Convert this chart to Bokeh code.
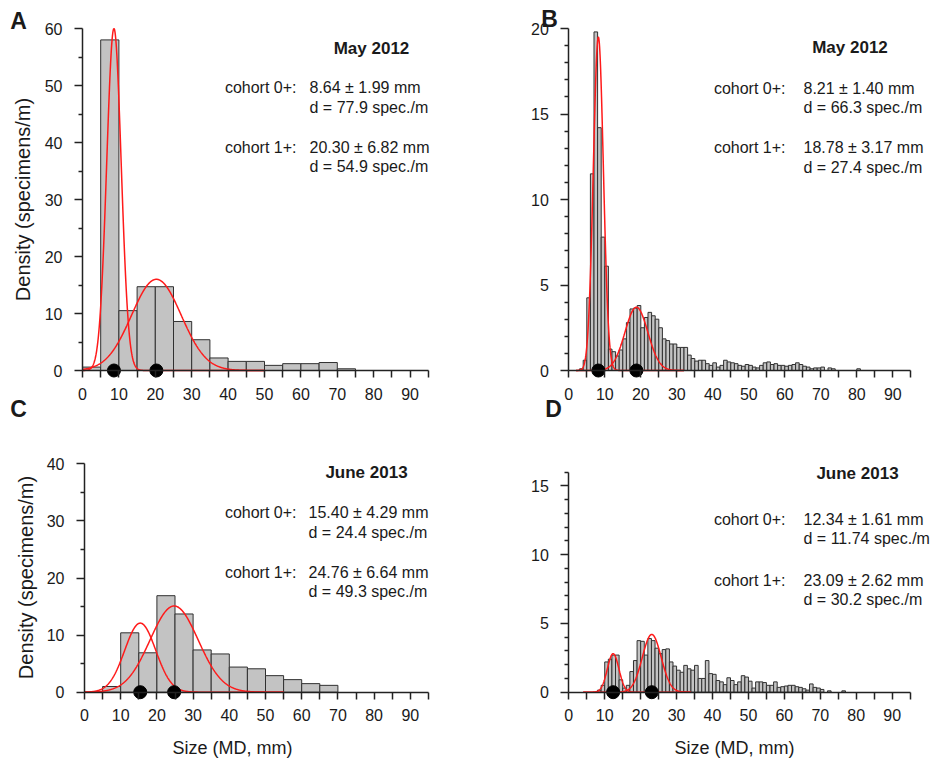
import numpy as np
from bokeh.plotting import figure
from bokeh.models import Range1d, FixedTicker, Label
from bokeh.layouts import column, row
from bokeh.embed import file_html
from bokeh.resources import INLINE

FONT = "Liberation Sans"
TXT = "#1a1a1a"

# ---------------- data ----------------
# Panel A (May 2012, 5-mm classes)
a_bin_left = [0, 5, 10, 15, 20, 25, 30, 35, 40, 45, 50, 55, 60, 65, 70]
a_density = [0.6, 58.0, 10.5, 14.7, 14.7, 8.6, 5.4, 2.2, 1.6, 1.6, 0.9, 1.2, 1.2, 1.4, 0.3]
a_means = [8.64, 20.30]
a_sds = [1.99, 6.82]
a_peaks = [60.0, 16.0]
a_dens_txt = ["77.9", "54.9"]

# Panel B (May 2012, 1-mm classes)
b_bin_left = list(range(3, 81))
b_density = [0.1, 0.6, 4.25, 11.5, 19.8, 14.2, 7.8, 6.1, 1.25, 1.1,
             0.85, 1.2, 1.85, 2.8, 3.6, 3.65, 3.8, 2.5, 3.1, 3.4,
             3.2, 3.0, 2.5, 1.85, 1.75, 1.55, 1.55, 1.35, 1.35, 1.35,
             0.9, 0.7, 0.55, 0.6, 0.6, 0.4, 0.3, 0.45, 0.2, 0.3,
             0.6, 0.5, 0.45, 0.4, 0.3, 0.25, 0.35, 0.3, 0.2, 0.15,
             0.3, 0.45, 0.5, 0.35, 0.4, 0.3, 0.3, 0.25, 0.3, 0.35,
             0.45, 0.35, 0.25, 0.2, 0.1, 0.15, 0.15, 0.2, 0.0, 0.15,
             0.1, 0.0, 0.0, 0.0, 0.0, 0.0, 0.0, 0.1]
b_means = [8.21, 18.78]
b_sds = [1.40, 3.17]
b_peaks = [19.5, 3.7]
b_dens_txt = ["66.3", "27.4"]

# Panel C (June 2013, 5-mm classes)
c_bin_left = [5, 10, 15, 20, 25, 30, 35, 40, 45, 50, 55, 60, 65]
c_density = [1.0, 10.4, 6.9, 16.9, 13.7, 7.4, 6.7, 4.4, 4.1, 2.9, 2.2, 1.5, 1.2]
c_means = [15.40, 24.76]
c_sds = [4.29, 6.64]
c_peaks = [12.1, 15.1]
c_dens_txt = ["24.4", "49.3"]

# Panel D (June 2013, 1-mm classes)
d_bin_left = list(range(8, 77))
d_density = [0.15, 0.5, 2.2, 2.4, 2.7, 2.7, 0.9, 0.3, 0.5, 1.5,
             2.3, 3.75, 3.7, 2.7, 3.9, 3.75, 3.2, 2.8, 3.1, 3.15,
             2.2, 1.9, 1.6, 1.45, 1.95, 1.7, 1.6, 1.95, 1.0, 1.0,
             2.3, 1.35, 1.3, 0.85, 0.75, 0.55, 1.05, 0.85, 0.55, 0.75,
             1.2, 1.1, 0.8, 0.3, 0.75, 0.75, 0.7, 0.5, 0.5, 0.75,
             0.35, 0.4, 0.45, 0.5, 0.5, 0.4, 0.35, 0.25, 0.15, 0.6,
             0.35, 0.3, 0.2, 0.0, 0.1, 0.0, 0.0, 0.0, 0.1]
d_means = [12.34, 23.09]
d_sds = [1.61, 2.62]
d_peaks = [2.8, 4.2]
d_dens_txt = ["11.74", "30.2"]

x_major = list(range(0, 91, 10))
x_minor = list(range(5, 96, 10))

ROW1_H = 420
ROW2_H = 767 - ROW1_H


def make_panel(letter, edges, bw, dens, means, sds, peaks, dtxt, span, title,
               ymax, ymaj, ymin_t, geom, pos):
    # geom: figure origin/size on page, axis origin on page, px per unit
    ox, oy, w, h, ax0, ay0, sx, sy = geom
    xr = Range1d((ox - ax0) / sx, (ox + w - ax0) / sx)
    yr = Range1d((ay0 - (oy + h)) / sy, (ay0 - oy) / sy)
    p = figure(frame_width=w, frame_height=h, min_border=0, min_border_left=0,
               min_border_right=0, min_border_top=0, min_border_bottom=0,
               x_range=xr, y_range=yr, output_backend="svg", toolbar_location=None,
               title=None)
    p.grid.visible = False
    p.outline_line_color = None
    p.background_fill_color = "white"
    p.border_fill_color = "white"

    def px(x, y):
        return (x - ax0) / sx, (ay0 - y) / sy

    xa = p.xaxis[0]
    xa.fixed_location = 0
    xa.bounds = (0, 95)
    xa.ticker = FixedTicker(ticks=x_major, minor_ticks=x_minor)
    xa.major_tick_out = 7
    xa.major_tick_in = 0
    xa.minor_tick_out = 7
    xa.minor_tick_in = 0
    xa.major_label_standoff = 10
    ya = p.yaxis[0]
    ya.fixed_location = 0
    ya.bounds = (0, ymax)
    ya.ticker = FixedTicker(ticks=ymaj, minor_ticks=ymin_t)
    ya.major_tick_out = 8
    ya.major_tick_in = 0
    ya.minor_tick_out = 4
    ya.minor_tick_in = 0
    ya.major_label_standoff = 12
    for ax in (xa, ya):
        ax.axis_line_width = 1.5
        ax.axis_line_color = "#222222"
        ax.major_tick_line_width = 1.5
        ax.major_tick_line_color = "#222222"
        ax.minor_tick_line_width = 1.5
        ax.minor_tick_line_color = "#222222"
        ax.major_label_text_font = FONT
        ax.major_label_text_font_size = "16px"
        ax.major_label_text_color = TXT

    # bars
    L = [e for e, v in zip(edges, dens) if v > 0]
    V = [v for v in dens if v > 0]
    p.quad(left=L, right=[e + bw for e in L], bottom=0, top=V,
           fill_color="#c3c3c3", line_color="#303030", line_width=1)

    # fitted normal curves
    xs = np.linspace(span[0], span[1], 500)
    for m, s, pk in zip(means, sds, peaks):
        p.line(xs, pk * np.exp(-0.5 * ((xs - m) / s) ** 2), line_color="#ff1a1a", line_width=1.5)
    p.scatter(means, [0] * len(means), size=13, color="black")

    def lab(xy, t, align, size="16px", bold=False, angle=0):
        x, y = px(*xy)
        p.add_layout(Label(x=x, y=y, text=t, text_align=align, text_baseline="middle",
                           text_font=FONT, text_font_size=size, text_color=TXT,
                           text_font_style="bold" if bold else "normal", angle=angle))

    lab(pos["title"], title, "center", "17px", True)
    lr, vl, ys = pos["lab_r"], pos["val_l"], pos["ys"]
    lab((lr, ys[0]), "cohort 0+:", "right")
    lab((vl, ys[0]), f"{means[0]:.2f} ± {sds[0]:.2f} mm", "left")
    lab((vl, ys[1]), f"d = {dtxt[0]} spec./m", "left")
    lab((lr, ys[2]), "cohort 1+:", "right")
    lab((vl, ys[2]), f"{means[1]:.2f} ± {sds[1]:.2f} mm", "left")
    lab((vl, ys[3]), f"d = {dtxt[1]} spec./m", "left")
    # panel letters (the letter of the panel below sits in this canvas' lower strip)
    for txt, xy in pos["letters"]:
        lab(xy, txt, "center", "23px", True)
    if "ylab" in pos:
        lab(pos["ylab"], "Density (specimens/m)", "center", "20px", False, np.pi / 2)
    if "xlab" in pos:
        lab(pos["xlab"], "Size (MD, mm)", "center", "18px")
    return p


pA = make_panel("A", a_bin_left, 5, a_density, a_means, a_sds, a_peaks, a_dens_txt, (0, 50),
                "May 2012", 60, list(range(0, 61, 10)), list(range(5, 60, 10)),
                (0, 0, 433, ROW1_H, 82, 370, 3.64, 5.7),
                dict(title=(371, 48), lab_r=296, val_l=309, ys=[87, 107, 147, 166],
                     letters=[("A", (18, 20)), ("C", (18, 408))], ylab=(22.5, 199)))

pB = make_panel("B", b_bin_left, 1, b_density, b_means, b_sds, b_peaks, b_dens_txt, (2, 32),
                "May 2012", 20, [0, 5, 10, 15, 20], [i for i in range(1, 20) if i % 5],
                (433, 0, 500, ROW1_H, 568.3, 370, 3.6, 17.1),
                dict(title=(849.5, 47), lab_r=785, val_l=803, ys=[88, 107, 147, 167],
                     letters=[("B", (549, 18)), ("D", (553, 408))]))

pC = make_panel("C", c_bin_left, 5, c_density, c_means, c_sds, c_peaks, c_dens_txt, (0, 55),
                "June 2013", 40, [0, 10, 20, 30, 40], [5, 15, 25, 35],
                (0, ROW1_H, 433, ROW2_H, 84, 691.7, 3.62, 5.71),
                dict(title=(366, 472), lab_r=296, val_l=308, ys=[512, 532, 572, 591],
                     letters=[], ylab=(25, 577), xlab=(232, 747)))

pD = make_panel("D", d_bin_left, 1, d_density, d_means, d_sds, d_peaks, d_dens_txt, (4, 34),
                "June 2013", 16, [0, 5, 10, 15], [i for i in range(1, 17) if i % 5],
                (433, ROW1_H, 500, ROW2_H, 568.3, 691.7, 3.593, 13.75),
                dict(title=(857, 473), lab_r=785, val_l=803, ys=[519, 538, 580, 599],
                     letters=[], xlab=(734, 747)))

layout = column(row(pA, pB), row(pC, pD))
open("out.html", "w").write(file_html(layout, INLINE))
